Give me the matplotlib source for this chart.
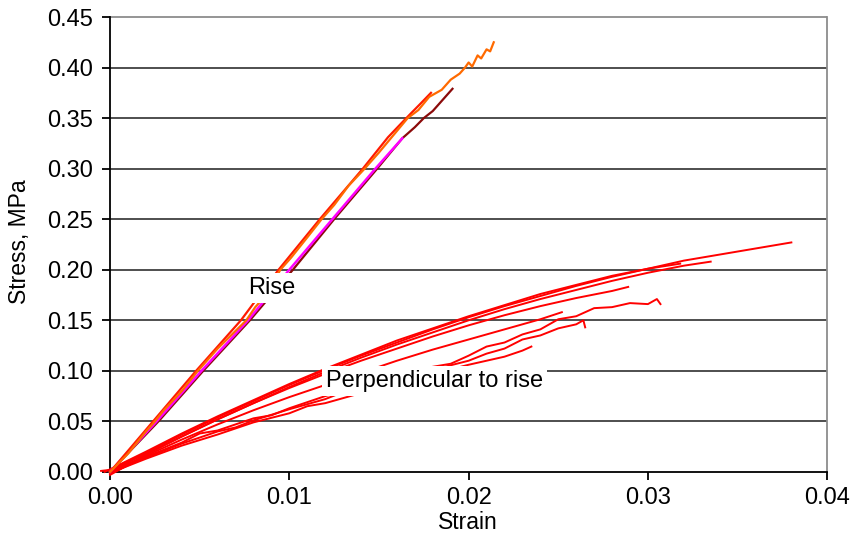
import matplotlib
matplotlib.use("Agg")
import matplotlib.pyplot as plt

plt.rcParams['font.family'] = ['Liberation Sans', 'DejaVu Sans']

# ---------------- data ----------------
x_ticks = [0.00, 0.01, 0.02, 0.03, 0.04]
x_tick_labels = ["0.00", "0.01", "0.02", "0.03", "0.04"]
y_ticks = [0.00, 0.05, 0.10, 0.15, 0.20, 0.25, 0.30, 0.35, 0.40, 0.45]
y_tick_labels = ["0.00", "0.05", "0.10", "0.15", "0.20", "0.25", "0.30", "0.35", "0.40", "0.45"]

# Perpendicular-to-rise specimens (red)
perpA_strain = [-0.0005, 0.000, 0.002, 0.004, 0.006, 0.008, 0.010, 0.012, 0.014, 0.016, 0.018,
                0.020, 0.022, 0.024, 0.026, 0.028, 0.030, 0.032, 0.034, 0.036, 0.038]
perpA_stress = [0.001, 0.002, 0.019, 0.037, 0.054, 0.070, 0.086, 0.101, 0.115, 0.128, 0.141,
                0.153, 0.164, 0.174, 0.184, 0.193, 0.201, 0.209, 0.215, 0.221, 0.227]

perpB_strain = [0.000, 0.002, 0.004, 0.006, 0.008, 0.010, 0.012, 0.014, 0.016, 0.018, 0.020,
                0.022, 0.024, 0.026, 0.028, 0.030, 0.032, 0.0335]
perpB_stress = [-0.003, 0.017, 0.035, 0.052, 0.068, 0.084, 0.099, 0.113, 0.126, 0.138, 0.150,
                0.161, 0.171, 0.180, 0.189, 0.197, 0.204, 0.208]

perpG_strain = [-0.0003, 0.002, 0.004, 0.006, 0.008, 0.010, 0.012, 0.014, 0.016, 0.018, 0.020,
                0.022, 0.024, 0.026, 0.028, 0.030, 0.0318]
perpG_stress = [0.000, 0.020, 0.038, 0.055, 0.071, 0.087, 0.102, 0.116, 0.130, 0.142, 0.154,
                0.165, 0.176, 0.185, 0.194, 0.201, 0.206]

perpC_strain = [0.000, 0.002, 0.004, 0.006, 0.008, 0.010, 0.012, 0.014, 0.016, 0.018, 0.020,
                0.022, 0.024, 0.026, 0.028, 0.0289]
perpC_stress = [0.001, 0.018, 0.035, 0.052, 0.068, 0.083, 0.097, 0.110, 0.122, 0.134, 0.145,
                0.155, 0.164, 0.172, 0.179, 0.183]

perpF_strain = [0.000, 0.002, 0.004, 0.006, 0.008, 0.010, 0.012, 0.014, 0.016, 0.018, 0.020,
                0.022, 0.024, 0.0252]
perpF_stress = [0.000, 0.016, 0.032, 0.047, 0.061, 0.074, 0.086, 0.098, 0.110, 0.121, 0.131,
                0.141, 0.151, 0.158]

perpD_strain = [0.000, 0.002, 0.004, 0.005, 0.006, 0.008, 0.009, 0.010, 0.012, 0.014, 0.015,
                0.016, 0.018, 0.019, 0.020, 0.021, 0.022, 0.023, 0.024, 0.025, 0.026, 0.027,
                0.028, 0.029, 0.030, 0.0305, 0.0307]
perpD_stress = [-0.002, 0.015, 0.029, 0.038, 0.041, 0.053, 0.056, 0.063, 0.075, 0.084, 0.092,
                0.094, 0.104, 0.107, 0.115, 0.124, 0.128, 0.136, 0.141, 0.151, 0.154, 0.162,
                0.163, 0.167, 0.166, 0.171, 0.166]

perpE_strain = [0.000, 0.002, 0.004, 0.006, 0.007, 0.008, 0.010, 0.012, 0.013, 0.014, 0.016,
                0.018, 0.020, 0.021, 0.022, 0.023, 0.024, 0.025, 0.026, 0.0264, 0.0265]
perpE_stress = [0.002, 0.014, 0.028, 0.040, 0.044, 0.051, 0.062, 0.072, 0.079, 0.082, 0.092,
                0.101, 0.110, 0.117, 0.122, 0.131, 0.135, 0.142, 0.146, 0.150, 0.143]

perpH_strain = [0.000, 0.002, 0.004, 0.006, 0.008, 0.010, 0.011, 0.012, 0.014, 0.016, 0.018,
                0.020, 0.022, 0.023, 0.0235]
perpH_stress = [-0.001, 0.013, 0.026, 0.037, 0.049, 0.058, 0.065, 0.068, 0.078, 0.088, 0.097,
                0.106, 0.114, 0.120, 0.124]

# Rise-direction specimens
rise_darkred_strain = [0.0000, 0.0027, 0.0052, 0.0078, 0.0102, 0.0125, 0.0149, 0.0163,
                       0.0170, 0.0175, 0.0180, 0.0185, 0.0191]
rise_darkred_stress = [0.000, 0.050, 0.100, 0.150, 0.200, 0.250, 0.300, 0.330,
                       0.341, 0.350, 0.357, 0.367, 0.379]

rise_magenta_strain = [0.0000, 0.0026, 0.0051, 0.0077, 0.0100, 0.0124, 0.0148, 0.0163]
rise_magenta_stress = [0.000, 0.050, 0.100, 0.150, 0.200, 0.250, 0.300, 0.330]

rise_red_strain = [0.0000, 0.0024, 0.0048, 0.0073, 0.0094, 0.0117, 0.0141, 0.0155,
                   0.0162, 0.0168, 0.0173, 0.0179]
rise_red_stress = [0.000, 0.050, 0.100, 0.150, 0.200, 0.250, 0.300, 0.331,
                   0.344, 0.355, 0.364, 0.375]

rise_orange_strain = [0.0000, 0.0010, 0.0020, 0.0025, 0.0030, 0.0040, 0.0049, 0.0060, 0.0068,
                      0.0076, 0.0081, 0.0087, 0.0095, 0.0101, 0.0110, 0.0118, 0.0125, 0.0133,
                      0.0142, 0.0150, 0.0158, 0.0166, 0.0172, 0.0178, 0.0185, 0.0190, 0.0195,
                      0.0198, 0.0200, 0.0202, 0.0205, 0.0207, 0.0210, 0.0212, 0.0214]
rise_orange_stress = [0.000, 0.018, 0.040, 0.050, 0.061, 0.080, 0.100, 0.122, 0.136,
                      0.150, 0.163, 0.175, 0.200, 0.212, 0.232, 0.250, 0.264, 0.283,
                      0.300, 0.316, 0.333, 0.350, 0.358, 0.371, 0.378, 0.388, 0.394,
                      0.400, 0.405, 0.401, 0.412, 0.409, 0.418, 0.416, 0.425]

# ---------------- figure ----------------
fig = plt.figure(figsize=(8.5, 5.38), dpi=100)
ax = fig.add_axes([0.1147, 0.1078, 0.8585, 0.8606])
ax.set_xlim(-0.0007, 0.04)
ax.set_ylim(-0.008, 0.45)

# grid lines (drawn from the y axis to the right edge)
for yv in y_ticks[1:]:
    ax.plot([0, 0.04], [yv, yv], color='#404040' if yv < 0.45 else '#8c8c8c',
            lw=1.3, zorder=1, clip_on=False, solid_capstyle='butt')
ax.plot([0.04, 0.04], [0, 0.45], color='#8c8c8c', lw=1.3, zorder=1, clip_on=False)

perp_series = [
    (perpA_strain, perpA_stress), (perpB_strain, perpB_stress), (perpG_strain, perpG_stress),
    (perpC_strain, perpC_stress), (perpF_strain, perpF_stress), (perpD_strain, perpD_stress),
    (perpE_strain, perpE_stress), (perpH_strain, perpH_stress),
]
for sx, sy in perp_series:
    ax.plot(sx, sy, color='#ff0000', lw=1.4, zorder=3)

ax.plot(rise_darkred_strain, rise_darkred_stress, color='#8b0a0a', lw=1.6, zorder=4)
ax.plot(rise_magenta_strain, rise_magenta_stress, color='#ff00ff', lw=1.8, zorder=5)
ax.plot(rise_red_strain, rise_red_stress, color='#ff1a00', lw=1.6, zorder=5)
ax.plot(rise_orange_strain, rise_orange_stress, color='#ff6a00', lw=1.6, zorder=6)

# spines
for s in ['top', 'right']:
    ax.spines[s].set_visible(False)
ax.spines['left'].set_position(('data', 0))
ax.spines['bottom'].set_position(('data', 0))
ax.spines['left'].set_bounds(0, 0.45)
ax.spines['bottom'].set_bounds(0, 0.04)
for s in ['left', 'bottom']:
    ax.spines[s].set_color('black')
    ax.spines[s].set_linewidth(1.3)
    ax.spines[s].set_zorder(2)

ax.set_xticks(x_ticks)
ax.set_xticklabels(x_tick_labels)
ax.set_yticks(y_ticks)
ax.set_yticklabels(y_tick_labels)
ax.tick_params(axis='both', direction='out', length=6, width=1.3, labelsize=17, color='black')
ax.tick_params(axis='x', pad=5)
ax.tick_params(axis='y', pad=6)

fig.text(0.0235, 0.55, "Stress, MPa", rotation=90, ha='center', va='center', fontsize=16.5)
fig.text(0.551, 0.028, "Strain", ha='center', va='center', fontsize=16.5)

box = dict(facecolor='white', edgecolor='none', pad=3)
ax.text(0.0090, 0.182, "Rise", ha='center', va='center', fontsize=17, bbox=box, zorder=10)
ax.text(0.0181, 0.090, "Perpendicular to rise", ha='center', va='center', fontsize=17,
        bbox=box, zorder=10)

fig.savefig("out.png", dpi=100)
